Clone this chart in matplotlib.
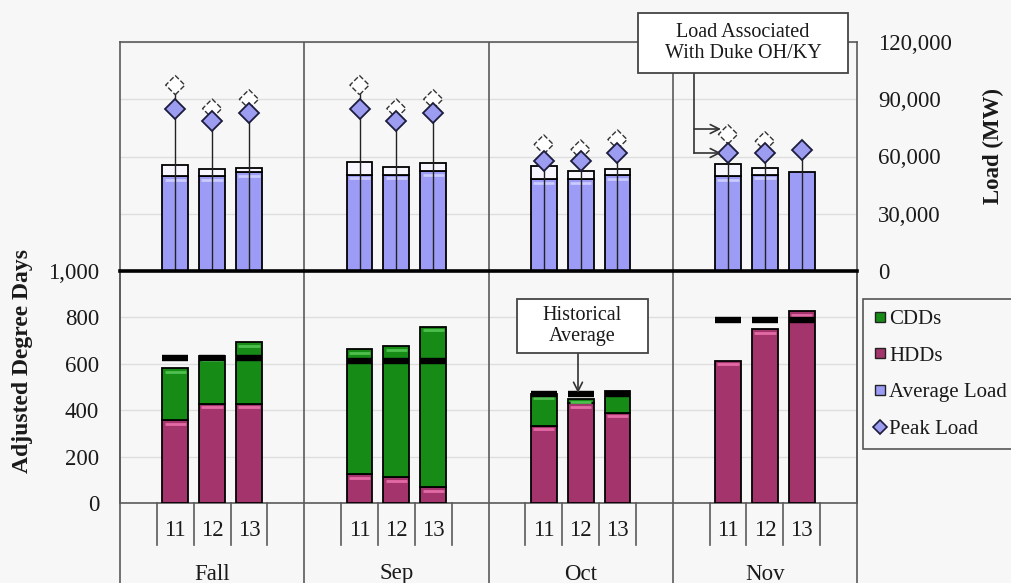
import numpy as np
import matplotlib
matplotlib.use("Agg")
import matplotlib.pyplot as plt
import matplotlib.transforms as mtransforms
from matplotlib.lines import Line2D
from matplotlib.patches import Rectangle, FancyArrowPatch
from matplotlib.ticker import FuncFormatter

plt.rcParams["font.family"] = ["Liberation Serif", "DejaVu Serif"]

# ---------------------------------------------------------------- data
groups = ["Fall", "Sep", "Oct", "Nov"]
years = ["11", "12", "13"]

# Adjusted degree days (HDDs at the bottom, CDDs stacked on top)
hdd = [[356, 427, 427], [124, 112, 68], [332, 430, 390], [613, 750, 827]]
cdd = [[225, 205, 266], [538, 563, 692], [136, 20, 92], [0, 0, 0]]
hist_avg = [[623, 623, 623], [610, 610, 610], [471, 471, 471], [789, 789, 789]]

# Load (MW)
avg_load = [[49600, 49600, 51800], [50500, 50500, 52300],
            [48200, 48200, 50200], [49600, 50500, 51900]]
duke_load = [[6200, 3900, 2400], [6700, 4100, 4400],
             [6700, 4100, 3300], [6700, 3500, 0]]
peak_load = [[85100, 78800, 83000], [85100, 78800, 83000],
             [57900, 57900, 61900], [61900, 61900, 63300]]
peak_with_duke = [[97400, 85100, 90000], [97400, 85100, 90000],
                  [66300, 63700, 68900], [71600, 68000, np.nan]]

# ---------------------------------------------------------------- style
BG = "#f7f7f7"
GREEN = "#168c16"
GREEN_HI = "#4fc04f"
MAROON = "#a3346c"
MAROON_HI = "#e46aa6"
BLUE = "#9c9cf6"
BLUE_HI = "#cbcbff"
DUKE = "#f8f7ff"
FRAME = "#5a5a5a"
GRID = "#dedede"
TXT = "#1a1a1a"

W, H = 1011, 583
fig = plt.figure(figsize=(W / 100, H / 100), dpi=100, facecolor=BG)


def frac_box(x0, y0, x1, y1):
    return [x0 / W, 1 - y1 / H, (x1 - x0) / W, (y1 - y0) / H]


ax_top = fig.add_axes(frac_box(120, 42, 857, 271), facecolor=BG)
ax_bot = fig.add_axes(frac_box(120, 271, 857, 503), facecolor=BG, sharex=ax_top)

n_g, n_y = len(groups), len(years)
slots = n_y + 2
x = np.array([g * slots + j + 1.5 for g in range(n_g) for j in range(n_y)])
bw = 0.7

flat = lambda a: np.array(a, dtype=float).ravel()
hdd_f, cdd_f, hist_f = flat(hdd), flat(cdd), flat(hist_avg)
avg_f, duke_f = flat(avg_load), flat(duke_load)
pk_f, pkd_f = flat(peak_load), flat(peak_with_duke)

ax_top.set_xlim(0, n_g * slots)
ax_top.set_ylim(0, 120000)
ax_bot.set_ylim(0, 1000)

# ---------------------------------------------------------------- axes cosmetics
for ax in (ax_top, ax_bot):
    ax.set_axisbelow(True)
    ax.yaxis.grid(True, color=GRID, lw=1.0)
    ax.tick_params(axis="x", bottom=False, labelbottom=False)
    for s in ax.spines.values():
        s.set_color(FRAME)
        s.set_linewidth(1.2)

ax_top.yaxis.tick_right()
ax_top.set_yticks(np.arange(0, 120001, 30000))
ax_top.yaxis.set_major_formatter(FuncFormatter(lambda v, p: f"{int(v):,}"))
ax_top.tick_params(axis="y", length=0, pad=15, labelsize=16.5, labelcolor=TXT)
ax_top.spines["bottom"].set_visible(False)

ax_bot.set_yticks(np.arange(0, 1001, 200))
ax_bot.yaxis.set_major_formatter(FuncFormatter(lambda v, p: f"{int(v):,}"))
ax_bot.tick_params(axis="y", length=0, pad=15, labelsize=16.5, labelcolor=TXT)
ax_bot.spines["top"].set_visible(False)

# thick divider between the two panels
ax_bot.axhline(1000, color="black", lw=2.6, zorder=6, clip_on=False)

# ---------------------------------------------------------------- degree-day bars
ax_bot.bar(x, hdd_f, width=bw, color=MAROON, edgecolor="black", lw=1.3, zorder=3)
m = cdd_f > 0
ax_bot.bar(x[m], cdd_f[m], bottom=hdd_f[m], width=bw, color=GREEN,
           edgecolor="black", lw=1.3, zorder=3)

hi_bot = mtransforms.offset_copy(ax_bot.transData, fig=fig, y=-3.5, units="dots")
ax_bot.hlines(hdd_f, x - bw / 2 + 0.06, x + bw / 2 - 0.06, color=MAROON_HI,
              lw=2.0, transform=hi_bot, zorder=4)
ax_bot.hlines((hdd_f + cdd_f)[m], x[m] - bw / 2 + 0.06, x[m] + bw / 2 - 0.06,
              color=GREEN_HI, lw=2.0, transform=hi_bot, zorder=4)

# historical average markers
ax_bot.hlines(hist_f, x - bw / 2, x + bw / 2, color="black", lw=4.6, zorder=5)

# ---------------------------------------------------------------- load bars
ax_top.bar(x, avg_f, width=bw, color=BLUE, edgecolor="black", lw=1.3, zorder=3)
md = duke_f > 0
ax_top.bar(x[md], duke_f[md], bottom=avg_f[md], width=bw, color=DUKE,
           edgecolor="black", lw=1.3, zorder=3)
hi_top = mtransforms.offset_copy(ax_top.transData, fig=fig, y=-3.5, units="dots")
ax_top.hlines(avg_f[md], x[md] - bw / 2 + 0.06, x[md] + bw / 2 - 0.06,
              color=BLUE_HI, lw=2.0, transform=hi_top, zorder=4)

line_top = np.where(np.isnan(pkd_f), pk_f, np.fmax(pk_f, pkd_f))
ax_top.vlines(x, 0, line_top, color="#222222", lw=1.0, zorder=4)

ax_top.scatter(x, pkd_f, marker="D", s=95, facecolors="white",
               edgecolors="#333333", linewidths=1.0, linestyles="--", zorder=5)
ax_top.plot(x, pk_f, ls="none", marker="D", ms=10.5, mfc="#9c9cf0",
            mec="#1c1c3c", mew=1.3, zorder=6)

# ---------------------------------------------------------------- category axis
blend = mtransforms.blended_transform_factory(ax_bot.transData, ax_bot.transAxes)
px = 1 / 232.0
for g in range(n_g + 1):
    gx = g * slots
    ax_bot.plot([gx, gx], [-(583 - 503) * px, 1], color=FRAME, lw=1.2,
                transform=blend, clip_on=False, zorder=2)
    if 0 < g < n_g:
        ax_top.axvline(gx, color=FRAME, lw=1.2, zorder=2)

for g, name in enumerate(groups):
    for k in range(1, n_y + 2):
        sx = g * slots + k
        ax_bot.plot([sx, sx], [0, -42 * px], color=FRAME, lw=1.2,
                    transform=blend, clip_on=False)
    for j, yr in enumerate(years):
        ax_bot.text(g * slots + j + 1.5, -27 * px, yr, transform=blend,
                    ha="center", va="center", fontsize=16.5, color=TXT)
    ax_bot.text(g * slots + slots / 2, -71 * px, name, transform=blend,
                ha="center", va="center", fontsize=16.5, color=TXT)

# ---------------------------------------------------------------- axis titles
fig.text(23 / W, 1 - 361 / H, "Adjusted Degree Days", rotation=90,
         ha="center", va="center", fontsize=17, fontweight="bold", color=TXT)
fig.text(993 / W, 1 - 146 / H, "Load (MW)", rotation=90,
         ha="center", va="center", fontsize=16.5, fontweight="bold", color=TXT)


# ---------------------------------------------------------------- callouts
def px_pt(xp, yp):
    return (xp / W, 1 - yp / H)


def callout(x0, y0, x1, y1, label):
    fig.add_artist(Rectangle(px_pt(x0, y1), (x1 - x0) / W, (y1 - y0) / H,
                             transform=fig.transFigure, facecolor="white",
                             edgecolor="#444444", lw=1.3, zorder=10))
    fig.text((x0 + x1) / 2 / W, 1 - (y0 + y1) / 2 / H, label, ha="center",
             va="center", fontsize=14.5, color=TXT, linespacing=1.15, zorder=11)


def connector(pts):
    xs = [p[0] / W for p in pts]
    ys = [1 - p[1] / H for p in pts]
    fig.add_artist(Line2D(xs, ys, transform=fig.transFigure, color="#333333",
                          lw=1.2, zorder=9))


def arrow(p0, p1):
    fig.add_artist(FancyArrowPatch(px_pt(*p0), px_pt(*p1),
                                   transform=fig.transFigure, arrowstyle="->",
                                   mutation_scale=16, color="#333333",
                                   lw=1.2, zorder=9, shrinkA=0, shrinkB=0))


callout(638, 13, 848, 73, "Load Associated\nWith Duke OH/KY")
connector([(694, 73), (694, 153)])
arrow((694, 129), (721, 129))
arrow((694, 153), (721, 153))

callout(517, 299, 648, 353, "Historical\nAverage")
arrow((578, 353), (578, 393))

# ---------------------------------------------------------------- legend
handles = [
    Line2D([], [], ls="none", marker="s", ms=7.5, mfc=GREEN, mec="#222222", mew=1),
    Line2D([], [], ls="none", marker="s", ms=7.5, mfc=MAROON, mec="#222222", mew=1),
    Line2D([], [], ls="none", marker="s", ms=7.5, mfc=BLUE, mec="#222222", mew=1),
    Line2D([], [], ls="none", marker="D", ms=7, mfc="#9c9cf0", mec="#1c1c3c", mew=1.2),
]
labels = ["CDDs", "HDDs", "Average Load", "Peak Load"]
leg = fig.legend(handles, labels, loc="upper left",
                 bbox_to_anchor=(863 / W, 1 - 299 / H), frameon=True,
                 fancybox=False, edgecolor="#555555", facecolor=BG,
                 framealpha=1, fontsize=15, handlelength=0.6,
                 handletextpad=0.15, labelspacing=0.82, borderpad=0.5,
                 borderaxespad=0)
leg.get_frame().set_linewidth(1.2)
for t in leg.get_texts():
    t.set_color(TXT)

fig.savefig("out.png", dpi=100, facecolor=BG)
